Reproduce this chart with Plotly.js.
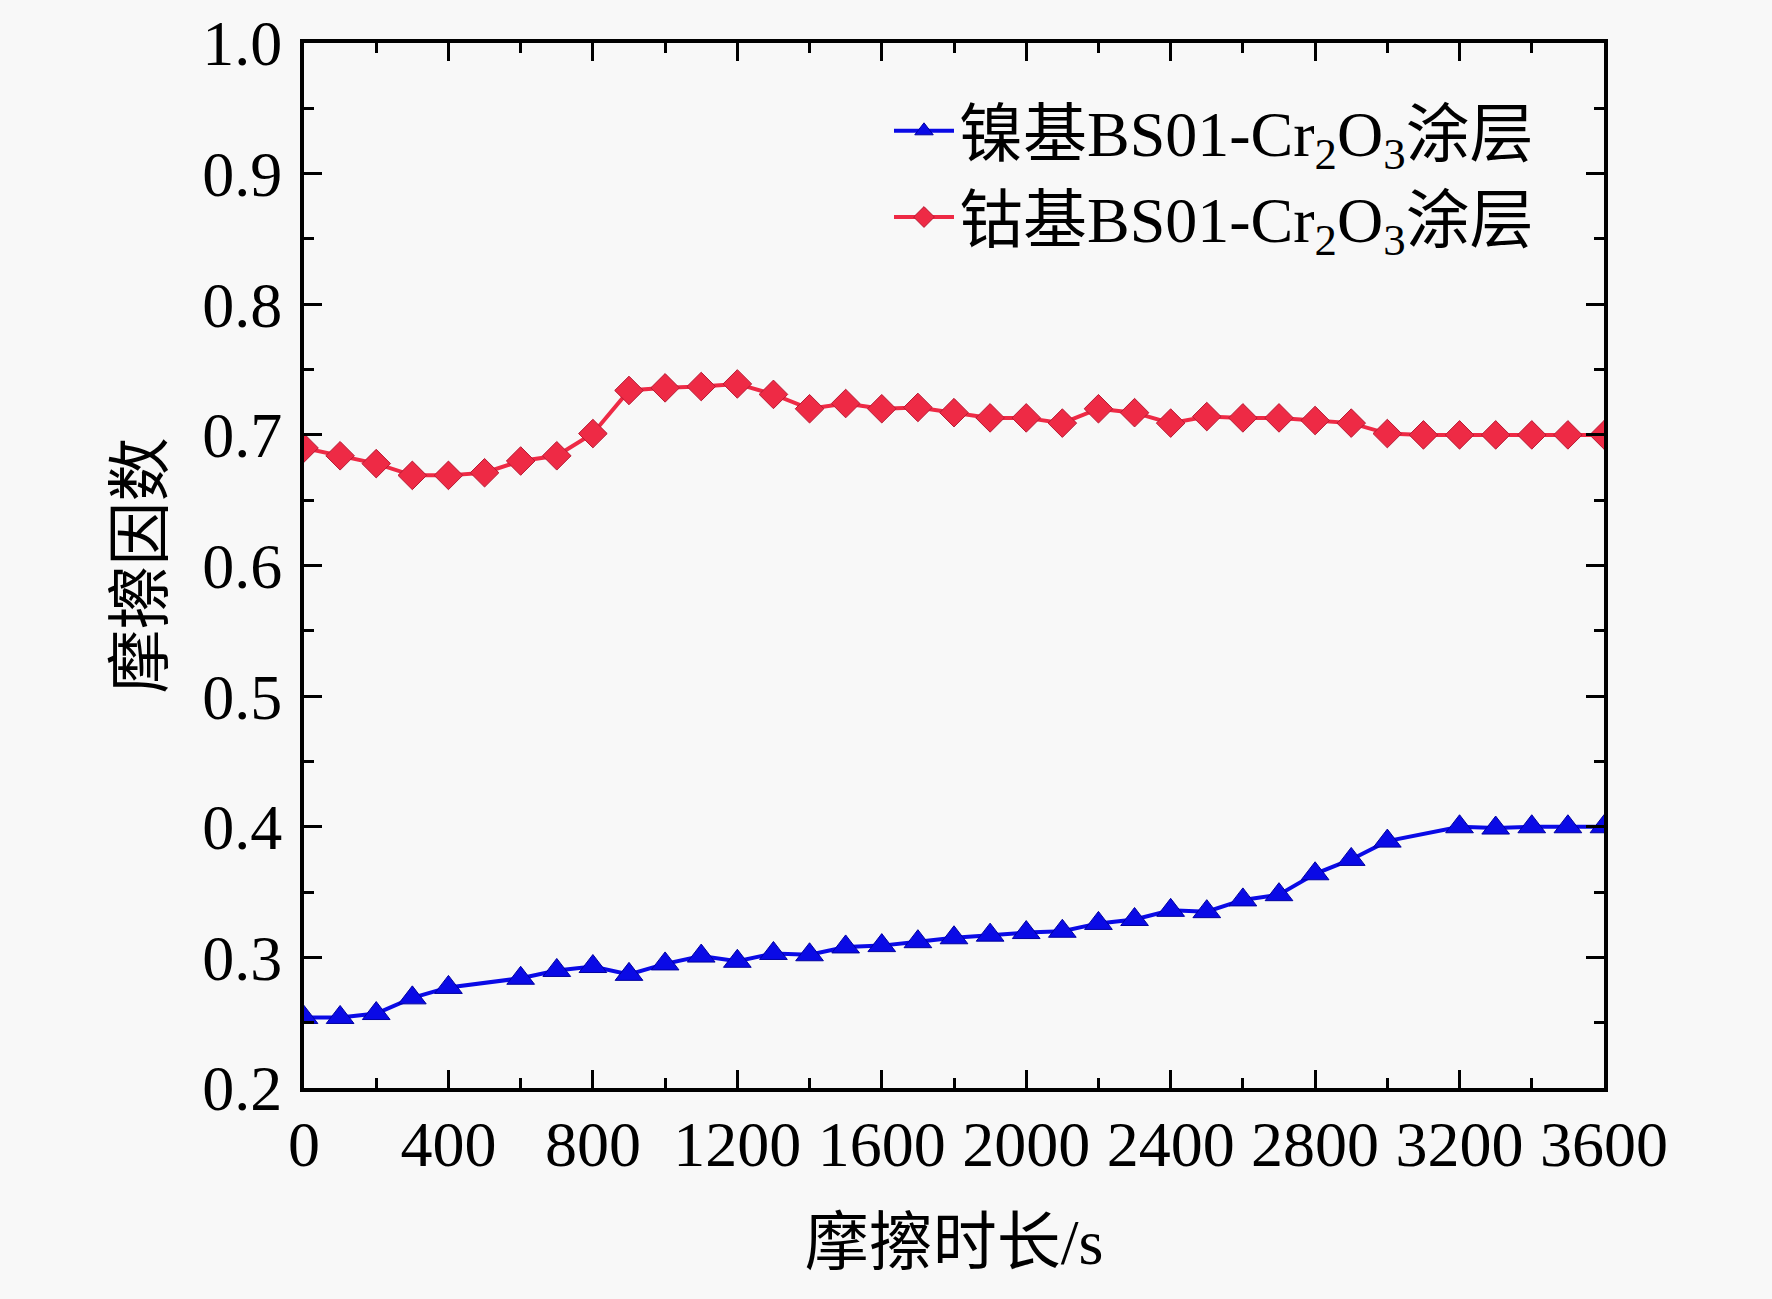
<!DOCTYPE html>
<html>
<head>
<meta charset="utf-8">
<script src="https://cdn.plot.ly/plotly-3.0.1.min.js"></script>
<style>
  html, body { margin: 0; padding: 0; background: #f8f8f8; }
  #plot { width: 1772px; height: 1299px; }
</style>
</head>
<body>
<div id="plot"></div>
<script>
// friction test, sampled every 100 s (nickel run is missing 500 s and 3100 s)
const timeNickel = [0, 100, 200, 300, 400, 600, 700, 800, 900, 1000, 1100, 1200, 1300, 1400, 1500,
  1600, 1700, 1800, 1900, 2000, 2100, 2200, 2300, 2400, 2500, 2600, 2700, 2800, 2900, 3000,
  3200, 3300, 3400, 3500, 3600];
const coefNickel = [0.254, 0.254, 0.257, 0.269, 0.277, 0.284, 0.290, 0.293, 0.287, 0.295, 0.301, 0.297, 0.303, 0.302, 0.308,
  0.309, 0.312, 0.315, 0.317, 0.319, 0.320, 0.326, 0.329, 0.336, 0.335, 0.344, 0.348, 0.364, 0.375, 0.389,
  0.400, 0.399, 0.400, 0.400, 0.400];

const timeCobalt = [0, 100, 200, 300, 400, 500, 600, 700, 800, 900, 1000, 1100, 1200, 1300, 1400, 1500,
  1600, 1700, 1800, 1900, 2000, 2100, 2200, 2300, 2400, 2500, 2600, 2700, 2800, 2900, 3000,
  3100, 3200, 3300, 3400, 3500, 3600];
const coefCobalt = [0.690, 0.684, 0.678, 0.669, 0.669, 0.671, 0.680, 0.684, 0.701, 0.734, 0.736, 0.737, 0.739, 0.731, 0.720, 0.724,
  0.720, 0.721, 0.717, 0.713, 0.713, 0.709, 0.720, 0.717, 0.709, 0.714, 0.713, 0.713, 0.711, 0.709, 0.701,
  0.700, 0.700, 0.700, 0.700, 0.700, 0.700];

const seriesNames = ['镍基BS01-Cr<sub>2</sub>O<sub>3</sub>涂层', '钴基BS01-Cr<sub>2</sub>O<sub>3</sub>涂层'];
const xTicks = [0, 400, 800, 1200, 1600, 2000, 2400, 2800, 3200, 3600];
const yTicks = [0.2, 0.3, 0.4, 0.5, 0.6, 0.7, 0.8, 0.9, 1.0];

const FONT = '"Liberation Serif", "Times New Roman", "Noto Sans CJK SC", serif';
const BLUE = '#0a0ae6';
const RED = '#ee2a45';

const data = [
  {
    x: timeNickel,
    y: coefNickel,
    type: 'scatter',
    mode: 'lines+markers',
    name: seriesNames[0],
    line: { color: BLUE, width: 4 },
    marker: { symbol: 'triangle-up', size: 24, color: BLUE, line: { color: '#0000a0', width: 1 } },
  },
  {
    x: timeCobalt,
    y: coefCobalt,
    type: 'scatter',
    mode: 'lines+markers',
    name: seriesNames[1],
    line: { color: RED, width: 4 },
    marker: { symbol: 'diamond', size: 22, color: RED, line: { color: '#b81a34', width: 1 } },
  },
];

const axisCommon = {
  showline: true,
  linecolor: '#000',
  linewidth: 4,
  mirror: 'ticks',
  ticks: 'inside',
  ticklen: 18,
  tickwidth: 3,
  tickcolor: '#000',
  showgrid: false,
  zeroline: false,
  tickfont: { family: FONT, size: 64, color: '#000' },
};

const layout = {
  width: 1772,
  height: 1299,
  paper_bgcolor: '#f8f8f8',
  plot_bgcolor: '#f8f8f8',
  margin: { l: 304, r: 168, t: 43, b: 211 },
  font: { family: FONT, color: '#000' },
  showlegend: true,
  legend: {
    x: 0.45, xanchor: 'left',
    y: 0.962, yanchor: 'top',
    bgcolor: 'rgba(0,0,0,0)',
    font: { family: FONT, size: 64, color: '#000' },
    itemwidth: 60,
  },
  xaxis: Object.assign({}, axisCommon, {
    range: [0, 3600],
    tickvals: xTicks,
    ticktext: xTicks.map(String),
    ticklabelstandoff: -3,
    minor: { ticks: 'inside', ticklen: 10, tickwidth: 3, tickcolor: '#000', dtick: 200 },
    title: { text: '摩擦时长/s', font: { family: FONT, size: 64, color: '#000' }, standoff: 41 },
    automargin: false,
  }),
  yaxis: Object.assign({}, axisCommon, {
    range: [0.2, 1.0],
    tickvals: yTicks,
    ticktext: yTicks.map(v => v.toFixed(1)),
    ticklabelstandoff: 5,
    minor: { ticks: 'inside', ticklen: 10, tickwidth: 3, tickcolor: '#000', dtick: 0.05 },
    title: { text: '摩擦因数', font: { family: FONT, size: 64, color: '#000' }, standoff: 20 },
    automargin: false,
  }),
};

Plotly.newPlot('plot', data, layout, { staticPlot: true, displayModeBar: false });
</script>
</body>
</html>
